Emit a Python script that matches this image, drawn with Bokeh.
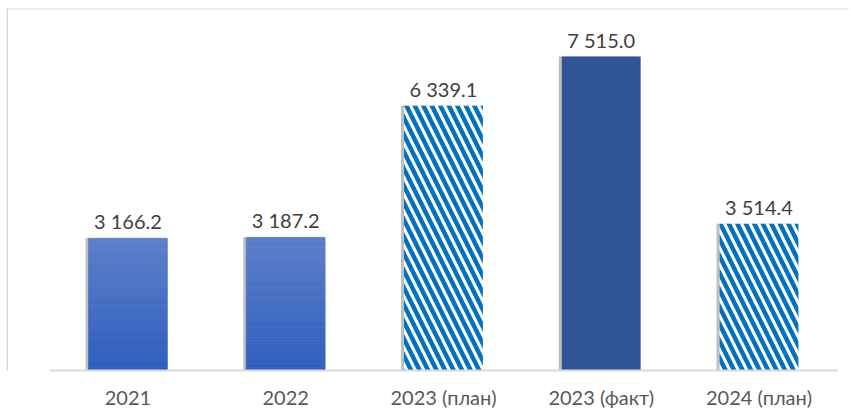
from bokeh.plotting import figure
from bokeh.models import ColumnDataSource, Range1d, FixedTicker, Span
from bokeh.transform import dodge
from bokeh.core.properties import value
from bokeh.embed import file_html
from bokeh.resources import INLINE

# ---- data ----
categories = ["2021", "2022", "2023 (план)", "2023 (факт)", "2024 (план)"]
values = [3166.2, 3187.2, 6339.1, 7515.0, 3514.4]
kinds = ["gradient", "gradient", "hatch", "solid", "hatch"]

FONT = "Lato"
idx = list(range(len(categories)))
labels = [f"{v:,.1f}".replace(",", " ") for v in values]

x_start = -0.770
x_end = x_start + 843 / 157.75
y_end = 8664

p = figure(frame_width=843, frame_height=362, x_range=Range1d(x_start, x_end),
           y_range=Range1d(0, y_end), output_backend="svg", toolbar_location=None,
           y_axis_location=None, min_border=0, min_border_left=6, min_border_top=8,
           outline_line_color=None)
p.grid.visible = False

src = ColumnDataSource(dict(x=idx, top=values, label=labels))
# shadow
p.vbar(x=dodge("x", -0.019, range=p.x_range), top="top", width=0.5, source=src,
       fill_color="#bfbfbf", line_color=None)

# gradient bars as stacked slices
top_c = (93, 127, 202)
bot_c = (46, 94, 190)
n = 40
gx, gb, gt, gc = [], [], [], []
for i, (v, k) in enumerate(zip(values, kinds)):
    if k != "gradient":
        continue
    for s in range(n):
        f = (s + 0.5) / n
        c = tuple(int(round(bot_c[j] + (top_c[j] - bot_c[j]) * f)) for j in range(3))
        gx.append(i)
        gb.append(v * s / n)
        gt.append(v * (s + 1) / n)
        gc.append("#%02x%02x%02x" % c)
p.vbar(x=gx, bottom=gb, top=gt, width=0.5, fill_color=gc, line_color=gc, line_width=0.6)

# solid bar
sx = [i for i, k in enumerate(kinds) if k == "solid"]
sv = [values[i] for i in sx]
p.vbar(x=sx, top=sv, width=0.5, fill_color="#2f5597", line_color=None)

# hatched bars
hx = [i for i, k in enumerate(kinds) if k == "hatch"]
hv = [values[i] for i in hx]
p.vbar(x=hx, top=hv, width=0.5, fill_color="white", line_color=None,
       hatch_pattern="left_diagonal_line", hatch_color="#0070c0",
       hatch_scale=17, hatch_weight=4.5)

# labels
p.text(x="x", y="top", text="label", source=src, text_align="center",
       text_baseline="alphabetic", y_offset=-17, text_font=value(FONT),
       text_font_size="20px", text_color="#404040")

# borders
p.add_layout(Span(location=x_start, dimension="height", line_color="#d9d9d9", line_width=3))
p.add_layout(Span(location=y_end, dimension="width", line_color="#d9d9d9", line_width=2))

ax = p.xaxis[0]
ax.ticker = FixedTicker(ticks=idx)
ax.major_label_overrides = {i: c for i, c in zip(idx, categories)}
ax.major_tick_line_color = None
ax.minor_tick_line_color = None
ax.axis_line_color = "#d9d9d9"
ax.axis_line_width = 2
ax.bounds = (-0.5, len(categories) - 0.5)
ax.major_label_text_font = FONT
ax.major_label_text_font_size = "20px"
ax.major_label_text_color = "#595959"
ax.major_label_standoff = 8

open("out.html", "w").write(file_html(p, INLINE))
